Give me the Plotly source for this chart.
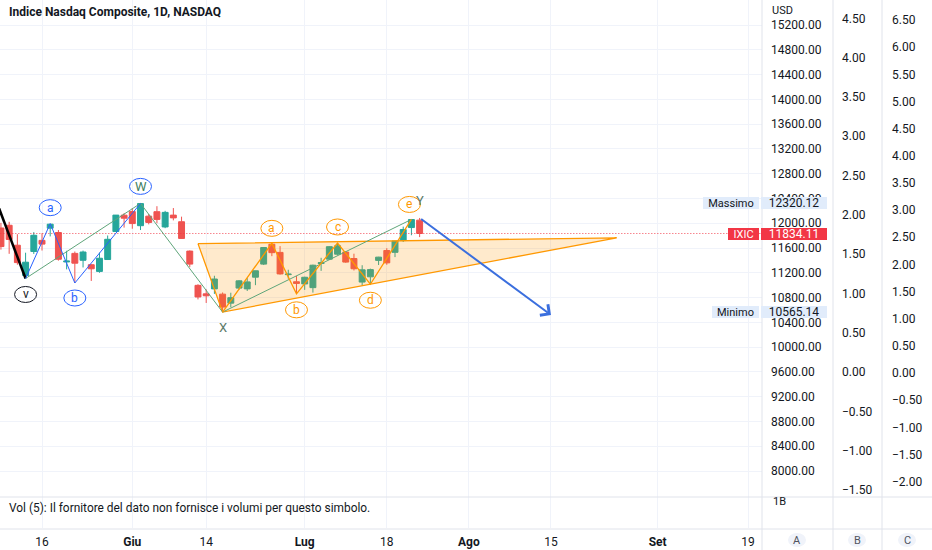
import plotly.graph_objects as go
import pandas as pd

W, H = 932, 550
FONT = "Roboto"
TXT = "#131722"

# ---------------- data ----------------
holidays = ["2022-05-30", "2022-06-20", "2022-07-04", "2022-09-05"]
first_candle = "2022-05-09"

opens = [11923, 11967, 11645, 11156, 11544, 11723, 11920, 11850, 11375, 11513,
         11402, 11330, 11222, 11414, 11866, 12130, 12188, 11960, 12114, 12186,
         11940, 12131, 12024, 11550, 10997, 10860, 10940, 10855, 10710, 10953,
         10940, 11129, 11340, 11661, 11529, 11170, 11055, 11020, 10960, 11350,
         11420, 11500, 11534, 11430, 11050, 11135, 11400, 11560, 11530, 11720,
         11930, 12050]
highs = [12006, 12023, 11823, 11524, 11856, 11838, 11993, 11890, 11555, 11543,
         11558, 11340, 11526, 11802, 12131.5, 12163, 12244, 12320.12, 12149, 12275,
         12200, 12245, 12106, 11560, 11015, 10932, 11152, 10882, 10878, 11082,
         11114, 11233, 11609, 11675, 11630, 11249, 11148, 11136, 11331, 11442,
         11629, 11681, 11549, 11508, 11322, 11267, 11458, 11597, 11713, 11945,
         12061, 12085]
lows = [11574, 11506, 11330, 11108, 11504, 11559, 11787, 11396, 11255, 11035,
        11286, 11068, 11200, 11410, 11865, 11929, 11911, 11890, 11982, 12000,
        11920, 12046, 11751, 11290, 10770, 10713, 10859, 10565.14, 10644, 10927,
        10906, 11000, 11325, 11468, 11170, 11104, 10860, 10924, 10880, 11231,
        11408, 11483, 11361, 11237, 10996, 11015, 11325, 11329, 11453, 11697,
        11806, 11776]
closes = [11623.25, 11737.67, 11364.24, 11370.96, 11805.00, 11662.79, 11984.52, 11418.15, 11388.50, 11354.62,
          11535.27, 11264.45, 11434.74, 11740.65, 12131.13, 12081.39, 11994.46, 12316.90, 12012.73, 12061.37,
          12175.23, 12086.27, 11754.23, 11340.02, 10809.23, 10828.35, 11099.15, 10646.10, 10798.35, 11069.30,
          11053.08, 11232.19, 11607.62, 11524.55, 11181.54, 11177.89, 11028.74, 11127.85, 11322.24, 11361.85,
          11621.35, 11635.31, 11372.60, 11264.73, 11247.58, 11251.19, 11452.42, 11360.05, 11713.15, 11897.65,
          12059.61, 11834.11]

tick_dates = ["2022-05-16", "2022-06-01", "2022-06-14", "2022-07-01", "2022-07-18",
              "2022-08-01", "2022-08-15", "2022-09-01", "2022-09-19"]
tick_labels = ["16", "Giu", "14", "Lug", "18", "Ago", "15", "Set", "19"]

price_ticks = [8000, 8400, 8800, 9200, 9600, 10000, 10400, 10800, 11200, 11600,
               12000, 12400, 12800, 13200, 13600, 14000, 14400, 14800, 15200]
b_ticks = [-1.5, -1.0, -0.5, 0.0, 0.5, 1.0, 1.5, 2.0, 2.5, 3.0, 3.5, 4.0, 4.5]
c_ticks = [-2.0, -1.5, -1.0, -0.5, 0.0, 0.5, 1.0, 1.5, 2.0, 2.5, 3.0, 3.5, 4.0,
           4.5, 5.0, 5.5, 6.0, 6.5]

# Elliott wave drawings (date, price)
black_dates = ["2022-05-05", "2022-05-12"]
black_prices = [12859, 11108]
blue_dates = ["2022-05-12", "2022-05-17", "2022-05-20", "2022-06-02"]
blue_prices = [11108, 11993, 11035, 12320.12]
green_dates = ["2022-05-12", "2022-06-02", "2022-06-16", "2022-07-21"]
green_prices = [11108, 12320.12, 10565.14, 12061]
orange_dates = ["2022-06-16", "2022-06-27", "2022-06-30", "2022-07-08", "2022-07-14", "2022-07-21"]
orange_prices = [10565.14, 11675, 10860, 11681, 11015, 12061]
triangle_dates = ["2022-06-13", "2022-06-16", "2022-08-25"]
triangle_prices = [11671, 10565.14, 11765]
arrow_dates = ["2022-07-22", "2022-08-15"]
arrow_prices = [12085, 10518]

label_texts = ["v", "a", "b", "W", "X", "a", "b", "c", "d", "e", "Y"]
label_dates = ["2022-05-12", "2022-05-17", "2022-05-20", "2022-06-02", "2022-06-16",
               "2022-06-27", "2022-06-30", "2022-07-08", "2022-07-14", "2022-07-21", "2022-07-22"]
label_prices = [11108, 11993, 11035, 12320.12, 10565.14, 11675, 10860, 11681, 11015, 12061, 12085]

# ---------------- calendar -> bar index ----------------
cal = [d.strftime("%Y-%m-%d") for d in pd.bdate_range("2022-05-02", "2022-10-14")]
cal = [d for d in cal if d not in holidays]
idx = {d: i for i, d in enumerate(cal)}
start = idx[first_candle]
xs = list(range(start, start + len(closes)))
assert len(opens) == len(highs) == len(lows) == len(closes)

def X(dates):
    return [idx[d] for d in dates]

# geometry (pixels)
PLOT_R = 762
PRICE_BOT = 528
px_per_bar = 706 / 86.0
i16 = idx["2022-05-16"]
x_lo = i16 - 42 / px_per_bar
x_hi = i16 + (PLOT_R - 42) / px_per_bar
ppu = 446 / 7200.0  # px per price unit
y_hi = 15200 + 25 / ppu
y_lo = 15200 - (PRICE_BOT - 25) / ppu
b_hi = 372 / 39.3 * 0.5
b_lo = -(PRICE_BOT - 372) / 39.3 * 0.5
c_hi = 373 / 27.15 * 0.5
c_lo = -(PRICE_BOT - 373) / 27.15 * 0.5

def px(x):
    return x / W

def py(y):
    return 1 - y / H

fig = go.Figure()

# triangle
fig.add_trace(go.Scatter(x=X(triangle_dates) + [X(triangle_dates)[0]],
                         y=triangle_prices + [triangle_prices[0]],
                         mode="lines", fill="toself", fillcolor="rgba(255,152,0,0.2)",
                         line=dict(color="#ff9800", width=1.3), hoverinfo="skip", showlegend=False))

# last price dotted line
last = closes[-1]
fig.add_trace(go.Scatter(x=[x_lo, x_hi], y=[last, last], mode="lines",
                         line=dict(color="rgba(242,54,69,0.6)", width=1.2, dash="1.5px,1.5px"),
                         hoverinfo="skip", showlegend=False))

# candles
fig.add_trace(go.Candlestick(x=xs, open=opens, high=highs, low=lows, close=closes,
                             increasing=dict(line=dict(color="#26a69a", width=1), fillcolor="#26a69a"),
                             decreasing=dict(line=dict(color="#ef5350", width=1), fillcolor="#ef5350"),
                             hoverinfo="skip", showlegend=False))

# wave lines
fig.add_trace(go.Scatter(x=X(black_dates), y=black_prices, mode="lines",
                         line=dict(color="#000000", width=2.5), hoverinfo="skip", showlegend=False))
fig.add_trace(go.Scatter(x=X(green_dates), y=green_prices, mode="lines",
                         line=dict(color="#5fa57a", width=1), hoverinfo="skip", showlegend=False))
fig.add_trace(go.Scatter(x=X(blue_dates), y=blue_prices, mode="lines",
                         line=dict(color="#2962ff", width=1), hoverinfo="skip", showlegend=False))
fig.add_trace(go.Scatter(x=X(orange_dates), y=orange_prices, mode="lines",
                         line=dict(color="#ff9800", width=1.3), hoverinfo="skip", showlegend=False))

# arrow
ax_ = X(arrow_dates)
fig.add_annotation(x=ax_[1], y=arrow_prices[1], ax=ax_[0], ay=arrow_prices[0],
                   xref="x", yref="y", axref="x", ayref="y", showarrow=True,
                   arrowhead=4, arrowsize=1.3, arrowwidth=2, arrowcolor="#3b6fde", text="")

# wave labels
label_style = {
    0: ("#131722", "#131722", 0, -16),
    1: ("#2962ff", "#2962ff", 0, 16),
    2: ("#2962ff", "#2962ff", 0, -15),
    3: ("#3f7f62", "#2962ff", 0, 17),
    4: ("#5b7a68", None, 0, -15),
    5: ("#ff9800", "#ff9800", 0, 15),
    6: ("#ff9800", "#ff9800", 0, -16),
    7: ("#ff9800", "#ff9800", 0, 16),
    8: ("#ff9800", "#ff9800", 0, -16),
    9: ("#ff9800", "#ff9800", -2, 15),
    10: ("#5b7a68", None, 0, 17),
}
for k, (t, d, p) in enumerate(zip(label_texts, label_dates, label_prices)):
    tc, cc, dx, dy = label_style[k]
    xi = idx[d]
    fig.add_annotation(x=xi, y=p, xref="x", yref="y", text=t, showarrow=False,
                       xshift=dx, yshift=dy, xanchor="center", yanchor="middle",
                       font=dict(family=FONT, size=13 if t in ("X", "Y", "W") else 12, color=tc))
    if cc:
        fig.add_shape(type="circle", xref="x", yref="y", xsizemode="pixel", ysizemode="pixel",
                      xanchor=xi, yanchor=p, x0=dx - 11, x1=dx + 11, y0=dy - 8, y1=dy + 8,
                      line=dict(color=cc, width=1), fillcolor="rgba(0,0,0,0)", layer="above")

# pane separators
for xx in (PLOT_R, 833, 882):
    fig.add_shape(type="line", xref="paper", yref="paper", x0=px(xx), x1=px(xx), y0=0, y1=1,
                  line=dict(color="#e0e3eb", width=1))
for yy in (497, 529):
    fig.add_shape(type="line", xref="paper", yref="paper", x0=0, x1=1, y0=py(yy), y1=py(yy),
                  line=dict(color="#e0e3eb", width=1))

# price labels on axis
hi_v = max(highs)
lo_v = min(lows)
def axis_tag(y, left_text, left_x0, val_text, bg, fg):
    fig.add_annotation(xref="paper", yref="y", x=px(left_x0), y=y, xanchor="left", yanchor="middle",
                       text=left_text, showarrow=False, bgcolor=bg, width=759 - left_x0, height=12,
                       borderpad=0, borderwidth=0, font=dict(family=FONT, size=11, color=fg))
    fig.add_annotation(xref="paper", yref="y", x=px(761), y=y, xanchor="left", yanchor="middle",
                       text=val_text, showarrow=False, bgcolor=bg, width=66, height=12,
                       borderpad=0, borderwidth=0, font=dict(family=FONT, size=12, color=fg))

axis_tag(hi_v, "Massimo", 703, f"{hi_v:.2f}", "#e1ecfb", TXT)
axis_tag(last, "IXIC", 728, f"{last:.2f}", "#f23645", "#ffffff")
axis_tag(lo_v, "Minimo", 712, f"{lo_v:.2f}", "#e1ecfb", TXT)

# texts
fig.add_annotation(xref="paper", yref="paper", x=px(7), y=py(12), xanchor="left", yanchor="middle",
                   text="<b>Indice Nasdaq Composite, 1D, NASDAQ</b>", showarrow=False,
                   font=dict(family=FONT, size=12, color=TXT))
fig.add_annotation(xref="paper", yref="paper", x=px(7), y=py(508), xanchor="left", yanchor="middle",
                   text="Vol (5): Il fornitore del dato non fornisce i volumi per questo simbolo.",
                   showarrow=False, font=dict(family=FONT, size=11.9, color=TXT))
fig.add_annotation(xref="paper", yref="paper", x=px(770), y=py(10), xanchor="left", yanchor="middle",
                   text="USD", showarrow=False, font=dict(family=FONT, size=11, color=TXT))
fig.add_annotation(xref="paper", yref="paper", x=px(771), y=py(501), xanchor="left", yanchor="middle",
                   text="1B", showarrow=False, font=dict(family=FONT, size=11, color=TXT))
for letter, cx in (("A", 797), ("B", 857), ("C", 907)):
    fig.add_shape(type="circle", xref="paper", yref="paper", x0=px(cx - 9), x1=px(cx + 9),
                  y0=py(547), y1=py(533), line=dict(width=0), fillcolor="#f0f3fa")
    fig.add_annotation(xref="paper", yref="paper", x=px(cx), y=py(540), xanchor="center", yanchor="middle",
                       text=letter, showarrow=False, font=dict(family=FONT, size=11, color="#50535e"))

ticktext = [t if t.isdigit() else f"<b>{t}</b>" for t in tick_labels]

fig.update_layout(
    width=W, height=H, margin=dict(l=0, r=0, t=0, b=0),
    paper_bgcolor="white", plot_bgcolor="white", showlegend=False,
    font=dict(family=FONT, size=12, color=TXT),
    boxgap=0.15, boxgroupgap=0.15,
    xaxis=dict(domain=[0, px(PLOT_R)], range=[x_lo, x_hi], tickvals=X(tick_dates), ticktext=ticktext,
               showgrid=True, gridcolor="#f0f3fa", zeroline=False, showline=False, ticks="",
               ticklabelstandoff=5, rangeslider=dict(visible=False),
               tickfont=dict(family=FONT, size=12, color=TXT), fixedrange=True),
    yaxis=dict(domain=[1 - PRICE_BOT / H, 1], range=[y_lo, y_hi], side="right",
               tickvals=price_ticks, tickformat=".2f", showgrid=True, gridcolor="#f0f3fa",
               zeroline=False, showline=False, ticks="", ticklabelstandoff=8,
               tickfont=dict(family=FONT, size=12, color=TXT), automargin=False),
    yaxis2=dict(overlaying="y", anchor="free", position=px(833), side="right", range=[b_lo, b_hi],
                tickvals=b_ticks, tickformat=".2f", showgrid=False, zeroline=False, showline=False,
                ticks="", ticklabelstandoff=8, tickfont=dict(family=FONT, size=12, color=TXT),
                automargin=False),
    yaxis3=dict(overlaying="y", anchor="free", position=px(882), side="right", range=[c_lo, c_hi],
                tickvals=c_ticks, tickformat=".2f", showgrid=False, zeroline=False, showline=False,
                ticks="", ticklabelstandoff=9, tickfont=dict(family=FONT, size=12, color=TXT),
                automargin=False),
)
# dummy traces so the extra axes render
fig.add_trace(go.Scatter(x=[None], y=[None], yaxis="y2", showlegend=False, hoverinfo="skip"))
fig.add_trace(go.Scatter(x=[None], y=[None], yaxis="y3", showlegend=False, hoverinfo="skip"))

fig.write_html("out.html", config={"displayModeBar": False},
               post_script="document.body.style.margin='0';document.body.style.overflow='hidden';")
